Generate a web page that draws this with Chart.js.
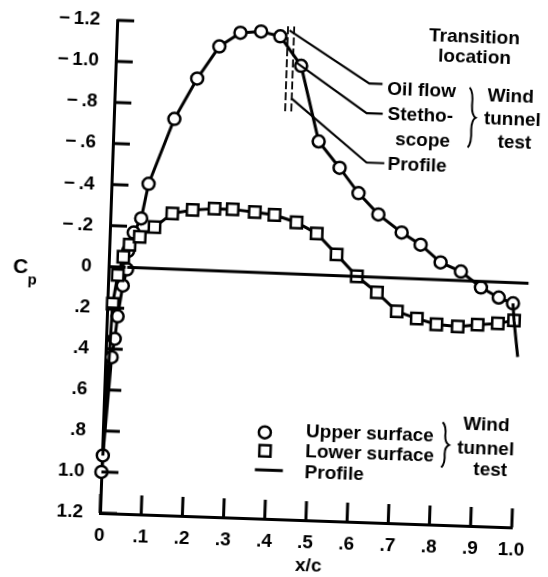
<!DOCTYPE html>
<html>
<head>
<meta charset="utf-8">
<script src="https://cdn.jsdelivr.net/npm/chart.js@4.4.1/dist/chart.umd.min.js"></script>
<style>
  html, body { margin: 0; padding: 0; background: #fff; overflow: hidden; }
  #wrap { width: 548px; height: 577px; position: relative; overflow: hidden; background: #fff; }
  /* the reference scan is skewed by about 2 degrees clockwise */
  #c { transform-origin: 100px 513px; transform: rotate(2deg); }
</style>
</head>
<body>
<div id="wrap"><canvas id="c" width="548" height="577"></canvas></div>
<script>
// ---- Data ----
const upperX  = [0.000, 0.002, 0.015, 0.021, 0.026, 0.036, 0.045, 0.046, 0.058, 0.075, 0.090, 0.147, 0.199, 0.250, 0.300, 0.350, 0.397, 0.450, 0.499, 0.552, 0.600, 0.650, 0.708, 0.755, 0.805, 0.855, 0.905, 0.949, 0.984];
const upperCp = [1.00, 0.92, 0.44, 0.35, 0.24, 0.09, 0.01, -0.08, -0.17, -0.24, -0.41, -0.73, -0.93, -1.09, -1.16, -1.17, -1.15, -1.01, -0.645, -0.52, -0.40, -0.30, -0.216, -0.16, -0.077, -0.036, 0.038, 0.084, 0.11];

const lowerX  = [0.002, 0.013, 0.023, 0.035, 0.049, 0.073, 0.108, 0.150, 0.199, 0.252, 0.296, 0.350, 0.398, 0.452, 0.502, 0.552, 0.603, 0.653, 0.703, 0.752, 0.800, 0.852, 0.900, 0.949, 0.988];
const lowerCp = [0.92, 0.18, 0.04, -0.05, -0.11, -0.15, -0.20, -0.27, -0.29, -0.30, -0.30, -0.29, -0.28, -0.247, -0.197, -0.098, 0.005, 0.08, 0.169, 0.20, 0.225, 0.232, 0.22, 0.21, 0.193];

const tailX  = [0.984, 0.988, 1.000];
const tailCp = [0.11, 0.193, 0.37];

const zeroX  = [0.045, 1.02];
const zeroCp = [0.00, 0.01];

// transition location marks (dashed) and leader lines
const transX1 = [0.415, 0.415];
const transX2 = [0.430, 0.430];
const transCp = [-1.20, -0.78];
const oilX  = [0.419, 0.617, 0.649];  const oilCp  = [-1.18, -0.935, -0.935];
const stetX = [0.438, 0.613, 0.652];  const stetCp = [-1.025, -0.79, -0.79];
const profX = [0.429, 0.617, 0.660];  const profCp = [-0.85, -0.55, -0.55];

const xTickValues = [0, 0.1, 0.2, 0.3, 0.4, 0.5, 0.6, 0.7, 0.8, 0.9, 1.0];
const xTickLabels = ["0", ".1", ".2", ".3", ".4", ".5", ".6", ".7", ".8", ".9", "1.0"];
const yTickValues = [-1.2, -1.0, -0.8, -0.6, -0.4, -0.2, 0, 0.2, 0.4, 0.6, 0.8, 1.0, 1.2];
const yTickLabels = ["\u2212\u20091.2", "\u2212\u20091.0", "\u2212\u2009.8", "\u2212\u2009.6", "\u2212\u2009.4", "\u2212\u2009.2", "0", ".2", ".4", ".6", ".8", "1.0", "1.2"];

const pts = (xs, ys) => xs.map((x, i) => ({ x: x, y: ys[i] }));

const FONT = '"Liberation Sans", Arial, sans-serif';
const BOLD19 = 'bold 19px ' + FONT;

// annotation text anchors (data coordinates)
const notes = [
  { t: "Transition", x: 0.868, y: -1.176, align: "center" },
  { t: "location",   x: 0.870, y: -1.08,  align: "center" },
  { t: "Oil flow",   x: 0.661, y: -0.91,  align: "left" },
  { t: "Stetho-",    x: 0.664, y: -0.788, align: "left" },
  { t: "scope",      x: 0.751, y: -0.667, align: "center" },
  { t: "Profile",    x: 0.668, y: -0.545, align: "left" },
  { t: "Wind",       x: 0.961, y: -0.895, align: "center" },
  { t: "tunnel",     x: 0.967, y: -0.784, align: "center" },
  { t: "test",       x: 0.974, y: -0.672, align: "center" },
  { t: "Upper surface", x: 0.493, y: 0.772, align: "left" },
  { t: "Lower surface", x: 0.493, y: 0.869, align: "left" },
  { t: "Profile",       x: 0.493, y: 0.970, align: "left" },
  { t: "Wind",   x: 0.930, y: 0.708, align: "center" },
  { t: "tunnel", x: 0.930, y: 0.825, align: "center" },
  { t: "test",   x: 0.943, y: 0.926, align: "center" }
];

const decor = {
  id: 'decor',
  afterDraw(chart) {
    const ctx = chart.ctx;
    const xs = chart.scales.x, ys = chart.scales.y;
    const X = v => xs.getPixelForValue(v), Y = v => ys.getPixelForValue(v);
    const ca = chart.chartArea;
    ctx.save();
    ctx.strokeStyle = '#000';
    ctx.fillStyle = '#000';
    // inward ticks
    ctx.lineWidth = 3;
    ctx.lineCap = 'butt';
    yTickValues.forEach(v => {
      const y = Y(v);
      ctx.beginPath(); ctx.moveTo(ca.left, y); ctx.lineTo(ca.left + 17, y); ctx.stroke();
    });
    xTickValues.forEach(v => {
      const x = X(v);
      ctx.beginPath(); ctx.moveTo(x, ca.bottom); ctx.lineTo(x, ca.bottom - 19); ctx.stroke();
    });
    // texts
    ctx.font = BOLD19;
    ctx.textBaseline = 'middle';
    notes.forEach(n => {
      ctx.textAlign = n.align;
      ctx.fillText(n.t, X(n.x), Y(n.y));
    });
    // braces
    function brace(x, y0, y1) {
      const ym = (y0 + y1) / 2;
      ctx.lineWidth = 2;
      ctx.beginPath();
      ctx.moveTo(x - 3, y0);
      ctx.quadraticCurveTo(x + 1, y0 + 4, x, y0 + (ym - y0) * 0.6);
      ctx.quadraticCurveTo(x, ym - 2, x + 4, ym);
      ctx.quadraticCurveTo(x, ym + 2, x, ym + (y1 - ym) * 0.4);
      ctx.quadraticCurveTo(x + 1, y1 - 4, x - 3, y1);
      ctx.stroke();
    }
    brace(X(0.868), Y(-0.933), Y(-0.641));
    brace(X(0.831), Y(0.70), Y(0.92));
    // legend markers
    ctx.lineWidth = 2.5;
    ctx.fillStyle = '#fff';
    ctx.beginPath(); ctx.arc(X(0.393), Y(0.78), 6, 0, Math.PI * 2); ctx.fill(); ctx.stroke();
    const sx = X(0.395), sy = Y(0.87);
    ctx.beginPath(); ctx.rect(sx - 5.6, sy - 5.6, 11.2, 11.2); ctx.fill(); ctx.stroke();
    ctx.lineWidth = 3;
    ctx.beginPath(); ctx.moveTo(X(0.372), Y(0.963)); ctx.lineTo(X(0.44), Y(0.963)); ctx.stroke();
    // axis titles
    ctx.fillStyle = '#000';
    ctx.textAlign = 'center';
    ctx.font = 'bold 19px ' + FONT;
    ctx.fillText('x/c', (ca.left + ca.right) / 2 + 4, 559);
    ctx.font = 'bold 21px ' + FONT;
    ctx.fillText('C', 12, 270);
    ctx.font = 'bold 15px ' + FONT;
    ctx.fillText('p', 24, 283);
    ctx.restore();
  }
};

const lineDS = (data, extra) => Object.assign({
  data: data, showLine: true, borderColor: '#000', borderWidth: 3,
  pointRadius: 0, pointHoverRadius: 0, tension: 0, clip: false, fill: false
}, extra || {});

new Chart(document.getElementById('c'), {
  type: 'scatter',
  data: {
    datasets: [
      lineDS(pts(zeroX, zeroCp), { borderWidth: 3 }),
      lineDS(pts(tailX, tailCp)),
      lineDS(pts(transX1, transCp), { borderWidth: 1.8, borderDash: [8, 3] }),
      lineDS(pts(transX2, transCp), { borderWidth: 1.8, borderDash: [8, 3] }),
      lineDS(pts(oilX, oilCp), { borderWidth: 2.2 }),
      lineDS(pts(stetX, stetCp), { borderWidth: 2.2 }),
      lineDS(pts(profX, profCp), { borderWidth: 2.2 }),
      lineDS(pts(lowerX, lowerCp), {
        pointStyle: 'rect',
        pointRadius: ctx => ctx.dataIndex === 0 ? 0 : 8,
        pointBorderWidth: 2.5, pointBackgroundColor: '#fff', pointBorderColor: '#000'
      }),
      lineDS(pts(upperX, upperCp), {
        pointStyle: 'circle', pointRadius: 6,
        pointBorderWidth: 2.5, pointBackgroundColor: '#fff', pointBorderColor: '#000'
      })
    ]
  },
  options: {
    responsive: false,
    animation: false,
    events: [],
    layout: { padding: { top: 20, right: 36, bottom: 0, left: 0 } },
    plugins: { legend: { display: false }, tooltip: { enabled: false } },
    scales: {
      x: {
        type: 'linear', min: 0, max: 1.0,
        afterBuildTicks: s => { s.ticks = xTickValues.map(v => ({ value: v })); },
        afterFit: s => { s.height = 64; s.paddingLeft = 0; s.paddingRight = 0; },
        grid: { drawOnChartArea: false, drawTicks: false },
        border: { display: true, color: '#000', width: 3 },
        ticks: {
          padding: 11, color: '#000', font: { family: FONT, size: 19, weight: 'bold' },
          maxRotation: 0, autoSkip: false,
          callback: (v, i) => xTickLabels[i]
        }
      },
      y: {
        type: 'linear', min: -1.2, max: 1.2, reverse: true,
        afterBuildTicks: s => { s.ticks = yTickValues.map(v => ({ value: v })); },
        afterFit: s => { s.width = 100; s.paddingTop = 0; s.paddingBottom = 0; },
        grid: { drawOnChartArea: false, drawTicks: false },
        border: { display: true, color: '#000', width: 3 },
        ticks: {
          padding: 17, color: '#000', font: { family: FONT, size: 19, weight: 'bold' },
          autoSkip: false,
          callback: (v, i) => yTickLabels[i]
        }
      }
    }
  },
  plugins: [decor]
});
</script>
</body>
</html>
